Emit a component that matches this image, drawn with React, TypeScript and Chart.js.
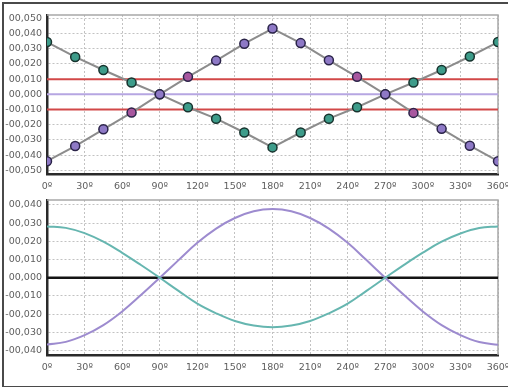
import React, { useEffect, useRef } from "react";
import { Chart, registerables } from "chart.js";

Chart.register(...registerables);

// ---------- data ----------
const topAngles = [0, 22.5, 45, 67.5, 90, 112.5, 135, 157.5, 180, 202.5, 225, 247.5, 270, 292.5, 315, 337.5, 360];
const topPurple = [-0.044, -0.034, -0.023, -0.012, 0, 0.0115, 0.0222, 0.0333, 0.0433, 0.0337, 0.0224, 0.0115, 0, -0.0122, -0.0227, -0.0338, -0.044];
const topTeal = [0.0344, 0.0246, 0.016, 0.0078, 0, -0.0085, -0.016, -0.0251, -0.0349, -0.0251, -0.016, -0.0085, 0, 0.0078, 0.016, 0.0249, 0.0344];
const limitLines = [0.01, -0.01];
const centerLine = [0];

const bottomAngles = [0, 15, 30, 45, 60, 75, 90, 105, 120, 135, 150, 165, 180, 195, 210, 225, 240, 255, 270, 285, 300, 315, 330, 345, 360];
const bottomTeal = [0.0282, 0.0274, 0.0245, 0.0198, 0.0137, 0.007, 0, -0.0072, -0.0142, -0.0195, -0.0237, -0.0262, -0.0271, -0.0262, -0.0237, -0.0195, -0.0142, -0.0072, 0, 0.0071, 0.0138, 0.0198, 0.0243, 0.0273, 0.0282];
const bottomPurple = [-0.0366, -0.0352, -0.0315, -0.026, -0.0185, -0.0095, 0, 0.0097, 0.0192, 0.027, 0.0328, 0.0365, 0.0377, 0.0365, 0.0328, 0.027, 0.0192, 0.0097, 0, -0.0095, -0.0185, -0.026, -0.0315, -0.0353, -0.0368];
const bottomZero = [0];

const xTicks = [0, 30, 60, 90, 120, 150, 180, 210, 240, 270, 300, 330, 360];
const xLabels = ["0º", "30º", "60º", "90º", "120º", "150º", "180º", "210º", "240º", "270º", "300º", "330º", "360º"];

const topYTicks = [0.05, 0.04, 0.03, 0.02, 0.01, 0, -0.01, -0.02, -0.03, -0.04, -0.05];
const topYLabels = ["00,050", "00,040", "00,030", "00,020", "00,010", "00,000", "-00,010", "-00,020", "-00,030", "-00,040", "-00,050"];
const bottomYTicks = [0.04, 0.03, 0.02, 0.01, 0, -0.01, -0.02, -0.03, -0.04];
const bottomYLabels = ["00,040", "00,030", "00,020", "00,010", "00,000", "-00,010", "-00,020", "-00,030", "-00,040"];

// ---------- style ----------
const FONT = { family: "DejaVu Sans", size: 9.5 };
const TICK_COLOR = "#5e5e5e";
const GRID_COLOR = "#c2c2c2";
const AXIS_COLOR = "#2a2a2a";

const framePlugin = {
  id: "frameLines",
  beforeDatasetsDraw(chart: any) {
    const { ctx, chartArea: a } = chart;
    ctx.save();
    ctx.strokeStyle = "#a8a8a8";
    ctx.lineWidth = 1.5;
    ctx.beginPath();
    ctx.moveTo(a.left, a.top);
    ctx.lineTo(a.right, a.top);
    ctx.lineTo(a.right, a.bottom);
    ctx.stroke();
    ctx.restore();
  },
};

function makeScales(yMin: number, yMax: number, yTicks: number[], yLabels: string[], xPad: number) {
  return {
    x: {
      type: "linear",
      min: 0,
      max: 360,
      afterBuildTicks: (s: any) => {
        s.ticks = xTicks.map((v) => ({ value: v }));
      },
      afterFit: (s: any) => {
        s.height = 18;
        s.paddingLeft = 0;
        s.paddingRight = 0;
      },
      ticks: {
        autoSkip: false,
        maxRotation: 0,
        padding: xPad,
        font: FONT,
        color: TICK_COLOR,
        callback: (_v: any, i: number) => xLabels[i],
      },
      grid: { color: GRID_COLOR, lineWidth: 1, drawTicks: false },
      border: { display: true, color: AXIS_COLOR, width: 2.5, dash: [2, 2] },
    },
    y: {
      type: "linear",
      min: yMin,
      max: yMax,
      afterBuildTicks: (s: any) => {
        s.ticks = yTicks.map((v) => ({ value: v }));
      },
      afterFit: (s: any) => {
        s.width = 47;
        s.paddingTop = 0;
        s.paddingBottom = 0;
      },
      ticks: {
        autoSkip: false,
        padding: 5,
        font: FONT,
        color: TICK_COLOR,
        callback: (_v: any, i: number) => yLabels[i],
      },
      grid: { color: GRID_COLOR, lineWidth: 1, drawTicks: false },
      border: { display: true, color: AXIS_COLOR, width: 2.5, dash: [2, 2] },
    },
  };
}

function hLine(y: number) {
  return [
    { x: 0, y },
    { x: 360, y },
  ];
}

function TopChart() {
  const ref = useRef<HTMLCanvasElement>(null);
  useEffect(() => {
    const purpleColors = topPurple.map((v) =>
      Math.abs(Math.abs(v) - 0.0118) < 0.002 ? "#a8579f" : "#8e79c6"
    );
    const chart = new Chart(ref.current as HTMLCanvasElement, {
      type: "line",
      data: {
        datasets: [
          {
            data: topPurple.map((y, i) => ({ x: topAngles[i], y })),
            borderColor: "#8c8c8c",
            borderWidth: 2,
            pointRadius: 4.5,
            pointBackgroundColor: purpleColors,
            pointBorderColor: "#2a2348",
            pointBorderWidth: 1.5,
            tension: 0,
            order: 1,
          },
          {
            data: topTeal.map((y, i) => ({ x: topAngles[i], y })),
            borderColor: "#8c8c8c",
            borderWidth: 2,
            pointRadius: 4.5,
            pointBackgroundColor: "#3d9c8a",
            pointBorderColor: "#17332e",
            pointBorderWidth: 1.5,
            tension: 0,
            order: 1,
          },
          ...limitLines.map((v) => ({
            data: hLine(v),
            borderColor: "#d24848",
            borderWidth: 2,
            pointRadius: 0,
            order: 2,
          })),
          ...centerLine.map((v) => ({
            data: hLine(v),
            borderColor: "#b6a6e2",
            borderWidth: 2,
            pointRadius: 0,
            order: 2,
          })),
        ],
      },
      options: {
        responsive: false,
        animation: false,
        layout: { padding: { left: 0, right: 10, top: 15, bottom: 0 } },
        plugins: { legend: { display: false }, tooltip: { enabled: false } },
        scales: makeScales(-0.0524, 0.0522, topYTicks, topYLabels, 7) as any,
      },
      plugins: [framePlugin],
    } as any);
    return () => chart.destroy();
  }, []);
  return (
    <canvas
      ref={ref}
      width={508}
      height={192}
      style={{ position: "absolute", left: 0, top: 0, width: 508, height: 192 }}
    />
  );
}

function BottomChart() {
  const ref = useRef<HTMLCanvasElement>(null);
  useEffect(() => {
    const chart = new Chart(ref.current as HTMLCanvasElement, {
      type: "line",
      data: {
        datasets: [
          {
            data: bottomTeal.map((y, i) => ({ x: bottomAngles[i], y })),
            borderColor: "#66b6b0",
            borderWidth: 2,
            pointRadius: 0,
            tension: 0.4,
            order: 1,
          },
          {
            data: bottomPurple.map((y, i) => ({ x: bottomAngles[i], y })),
            borderColor: "#9d8bcf",
            borderWidth: 2,
            pointRadius: 0,
            tension: 0.4,
            order: 1,
          },
          ...bottomZero.map((v) => ({
            data: hLine(v),
            borderColor: "#141414",
            borderWidth: 2.5,
            pointRadius: 0,
            order: 2,
          })),
        ],
      },
      options: {
        responsive: false,
        animation: false,
        layout: { padding: { left: 0, right: 10, top: 10, bottom: 14 } },
        plugins: { legend: { display: false }, tooltip: { enabled: false } },
        scales: makeScales(-0.0424, 0.0427, bottomYTicks, bottomYLabels, 7) as any,
      },
      plugins: [framePlugin],
    } as any);
    return () => chart.destroy();
  }, []);
  return (
    <canvas
      ref={ref}
      width={508}
      height={197}
      style={{ position: "absolute", left: 0, top: 190, width: 508, height: 197 }}
    />
  );
}

export default function App() {
  return (
    <div
      style={{
        position: "absolute",
        left: 0,
        top: 0,
        width: 508,
        height: 387,
        overflow: "hidden",
        background: "#ffffff",
      }}
    >
      <TopChart />
      <BottomChart />
      <div
        style={{
          position: "absolute",
          left: 2,
          top: 2,
          width: 530,
          height: 382,
          borderLeft: "2px solid #4a4a4a",
          borderTop: "2px solid #4a4a4a",
          borderBottom: "2px solid #4a4a4a",
          pointerEvents: "none",
        }}
      />
    </div>
  );
}
